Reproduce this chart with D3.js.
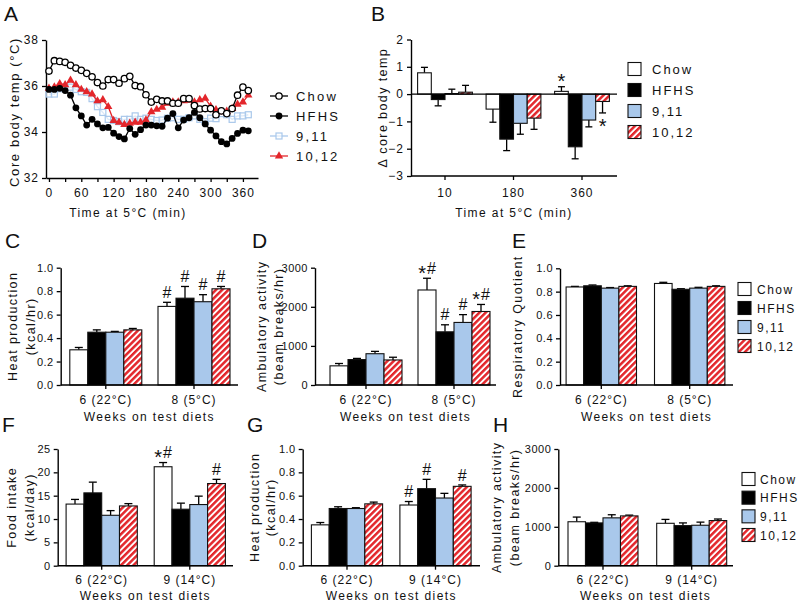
<!DOCTYPE html>
<html><head><meta charset="utf-8">
<script src="https://cdn.jsdelivr.net/npm/d3@7/dist/d3.min.js"></script>
<style>
body{margin:0;background:#fff}
svg{font-family:"Liberation Sans",Arial,Helvetica,sans-serif}
</style>
</head><body>
<svg id="c" width="800" height="603"></svg>
<script>
// ---------------- DATA ----------------
const seriesNames = ["Chow","HFHS","9,11","10,12"];

// Panel A: core body temperature over time at 5°C
const timeMin = [0,10,20,30,40,50,60,70,80,90,100,110,120,130,140,150,160,170,180,190,200,210,220,230,240,250,260,270,280,290,300,310,320,330,340,350,360,370];
const aChow = [36.65,37.1,37.07,37.03,36.9,36.78,36.68,36.55,36.4,36.15,36.0,36.28,36.28,36.12,36.32,36.42,36.02,35.97,35.62,35.3,35.42,35.35,35.35,35.25,35.25,35.45,35.45,35.15,35.0,35.02,35.02,34.75,34.92,34.8,35.02,35.6,35.95,35.8];
const aHFHS = [35.85,35.85,35.9,35.8,35.6,35.05,34.7,34.3,34.55,34.35,34.18,34.2,33.95,33.8,33.7,34.15,33.9,34.1,34.3,34.3,34.27,34.25,34.6,34.8,34.18,34.52,34.62,34.85,34.62,34.35,34.08,33.83,33.58,33.48,33.72,33.94,34.08,34.05];
const a911  = [35.65,35.65,35.88,35.95,35.95,35.85,35.75,35.72,35.45,35.1,34.85,34.55,34.5,34.45,34.55,34.55,34.7,34.55,34.6,34.55,34.5,34.52,34.6,34.62,34.55,34.55,34.62,34.7,34.55,34.45,34.6,34.58,34.8,34.75,34.55,34.7,34.7,34.75];
const a1012 = [35.9,35.95,36.1,36.05,36.25,36.05,35.85,35.75,35.65,35.35,35.4,35.1,34.5,34.42,34.32,34.38,34.42,34.42,34.52,34.88,34.98,35.07,35.25,35.3,35.3,35.35,35.38,35.3,35.4,35.46,35.12,34.96,34.88,34.9,35.02,35.2,35.3,35.6];
const aXTicks = [0,30,60,90,120,150,180,210,240,270,300,330,360];
const aXLabels = ["0","","60","","120","","180","","240","","300","","360"];
const aYTicks = [32,34,36,38];

// Panel B: change in core body temp
const bCats = ["10","180","360"];
const bMean = { "Chow":[0.78,-0.55,0.1], "HFHS":[-0.2,-1.65,-1.93], "9,11":[0.02,-1.07,-0.95], "10,12":[0.07,-0.88,-0.27] };
const bErr  = { "Chow":[0.2,0.48,0.17],  "HFHS":[0.23,0.42,0.44],   "9,11":[0.16,0.4,0.25],   "10,12":[0.25,0.41,0.42] };
const bAnn  = [ {s:"Chow",c:"360",t:"*",mode:"above"}, {s:"10,12",c:"360",t:"*",mode:"below"} ];
const bYTicks = [-3,-2,-1,0,1,2];

// Panels C-E (weeks 6 at 22°C, 8 at 5°C)
const catsCE = ["6 (22°C)","8 (5°C)"];
const cMean = { "Chow":[0.30,0.67], "HFHS":[0.45,0.74], "9,11":[0.45,0.71], "10,12":[0.47,0.82] };
const cErr  = { "Chow":[0.02,0.035],"HFHS":[0.02,0.10], "9,11":[0.007,0.06],"10,12":[0.012,0.02] };
const cAnn  = [ {s:"Chow",c:"8 (5°C)",t:"#"},{s:"HFHS",c:"8 (5°C)",t:"#"},{s:"9,11",c:"8 (5°C)",t:"#"},{s:"10,12",c:"8 (5°C)",t:"#"} ];
const dMean = { "Chow":[490,2430], "HFHS":[650,1360], "9,11":[800,1600], "10,12":[640,1880] };
const dErr  = { "Chow":[60,300],   "HFHS":[30,180],   "9,11":[60,200],   "10,12":[70,180] };
const dAnn  = [ {s:"Chow",c:"8 (5°C)",t:"*#"},{s:"HFHS",c:"8 (5°C)",t:"#"},{s:"9,11",c:"8 (5°C)",t:"#"},{s:"10,12",c:"8 (5°C)",t:"*#"} ];
const eMean = { "Chow":[0.84,0.87], "HFHS":[0.85,0.82], "9,11":[0.83,0.83], "10,12":[0.845,0.845] };
const eErr  = { "Chow":[0.005,0.01],"HFHS":[0.007,0.005],"9,11":[0.005,0.007],"10,12":[0.005,0.005] };

// Panels F-H (weeks 6 at 22°C, 9 at 14°C)
const catsFH = ["6 (22°C)","9 (14°C)"];
const fMean = { "Chow":[13.2,21.2], "HFHS":[15.6,12.1], "9,11":[10.8,13.1], "10,12":[12.8,17.6] };
const fErr  = { "Chow":[1.0,0.9],   "HFHS":[2.3,1.3],   "9,11":[1.0,1.8],   "10,12":[0.5,0.9] };
const fAnn  = [ {s:"Chow",c:"9 (14°C)",t:"*#"},{s:"10,12",c:"9 (14°C)",t:"#"} ];
const gMean = { "Chow":[0.35,0.52], "HFHS":[0.49,0.66], "9,11":[0.49,0.58], "10,12":[0.53,0.68] };
const gErr  = { "Chow":[0.02,0.03], "HFHS":[0.015,0.08],"9,11":[0.007,0.04],"10,12":[0.015,0.012] };
const gAnn  = [ {s:"Chow",c:"9 (14°C)",t:"#"},{s:"HFHS",c:"9 (14°C)",t:"#"},{s:"10,12",c:"9 (14°C)",t:"#"} ];
const hMean = { "Chow":[1130,1090], "HFHS":[1100,1030], "9,11":[1230,1040], "10,12":[1280,1160] };
const hErr  = { "Chow":[120,100],   "HFHS":[15,70],     "9,11":[80,80],     "10,12":[20,40] };

const ticks01 = [0,0.2,0.4,0.6,0.8,1.0];
const ticks3000 = [0,1000,2000,3000];
const ticks25 = [0,5,10,15,20,25];

// ---------------- DRAWING ----------------
const BLUE = "#a9c8eb", RED = "#e3262b";
const svg = d3.select("#c");
const defs = svg.append("defs");
const pat = defs.append("pattern").attr("id","hatch").attr("patternUnits","userSpaceOnUse")
  .attr("width",4.4).attr("height",4.4).attr("patternTransform","rotate(45)");
pat.append("rect").attr("width",4.4).attr("height",4.4).attr("fill","#fff");
pat.append("rect").attr("width",2.5).attr("height",4.4).attr("fill",RED);
const fills = {"Chow":"#fff","HFHS":"#000","9,11":BLUE,"10,12":"url(#hatch)"};

function text(x,y,s,o={}){
  const t = svg.append("text").attr("x",x).attr("y",y).text(s)
    .attr("font-size",o.size||12).attr("fill","#111")
    .attr("letter-spacing",o.ls!==undefined?o.ls:1)
    .attr("text-anchor",o.anchor||"start");
  if(o.rot) t.attr("transform",`rotate(-90,${x},${y})`);
  if(o.baseline) t.attr("dominant-baseline",o.baseline);
  return t;
}

// significance marks, positioned by the vertical centre of the glyphs
function mark(cx, cy, str){
  const t = svg.append("text").attr("x",cx).attr("y",cy+5.7).attr("text-anchor","middle").attr("fill","#111");
  let shifted = false;
  for(const ch of str){
    const sp = t.append("tspan").text(ch);
    if(ch==="*"){ sp.attr("font-size",20).attr("dy",5.8); shifted = true; }
    else { sp.attr("font-size",16); if(shifted){ sp.attr("dy",-5.8).attr("dx",1); shifted=false; } }
  }
}

function styleAxis(g, size){
  g.select(".domain").attr("stroke","#000").attr("stroke-width",1.4);
  g.selectAll(".tick line").attr("stroke","#000").attr("stroke-width",1.3);
  g.selectAll(".tick text").attr("font-size",size||12).attr("letter-spacing",size&&size<12?0.5:1).attr("fill","#111")
    .attr("font-family",'"Liberation Sans",Arial,sans-serif');
}

function yAxis(x, y, ticks, fmt, size){
  const g = svg.append("g").attr("transform",`translate(${x},0)`)
    .call(d3.axisLeft(y).tickValues(ticks).tickFormat(fmt).tickSize(4).tickSizeOuter(0).tickPadding(3));
  styleAxis(g, size);
  return g;
}

// Panel letters
[["A",4,21],["B",371,21],["C",5,248],["D",252,248],["E",512,248],["F",2,432],["G",247,432],["H",493,432]]
  .forEach(d=>text(d[1],d[2],d[0],{size:21,ls:0}));

// ---------- Panel A ----------
(function(){
  const x = d3.scaleLinear().domain([-5.5,388]).range([46,258]);
  const y = d3.scaleLinear().domain([32,38]).range([178,40]);
  const gx = svg.append("g").attr("transform","translate(0,178)")
    .call(d3.axisBottom(x).tickValues(aXTicks).tickFormat((d,i)=>aXLabels[i]).tickSize(4).tickSizeOuter(0).tickPadding(6));
  styleAxis(gx);
  yAxis(46, y, aYTicks, d3.format("d"), 12);
  const series = [
    {name:"9,11", v:a911, color:BLUE, marker:"square"},
    {name:"10,12", v:a1012, color:RED, marker:"triangle"},
    {name:"HFHS", v:aHFHS, color:"#000", marker:"filled"},
    {name:"Chow", v:aChow, color:"#000", marker:"open"}
  ];
  const line = d3.line().x((d,i)=>x(timeMin[i])).y(d=>y(d));
  function marker(g, cx, cy, m, color){
    if(m==="open") g.append("circle").attr("cx",cx).attr("cy",cy).attr("r",3.2).attr("fill","#fff").attr("stroke","#000").attr("stroke-width",1.3);
    else if(m==="filled") g.append("circle").attr("cx",cx).attr("cy",cy).attr("r",3.4).attr("fill","#000");
    else if(m==="square") g.append("rect").attr("x",cx-3).attr("y",cy-3).attr("width",6).attr("height",6).attr("fill","#fff").attr("fill-opacity",0.6).attr("stroke",color).attr("stroke-width",1.2);
    else g.append("path").attr("d",d3.symbol(d3.symbolTriangle,30)()).attr("transform",`translate(${cx},${cy})`).attr("fill",color);
  }
  series.forEach(s=>{
    const g = svg.append("g");
    g.append("path").datum(s.v).attr("d",line).attr("fill","none").attr("stroke",s.color).attr("stroke-width",1.3);
    s.v.forEach((d,i)=>marker(g, x(timeMin[i]), y(d), s.marker, s.color));
  });
  // legend
  const ly = d3.scalePoint().domain(seriesNames).range([96,156]);
  const lmap = {"Chow":series[3],"HFHS":series[2],"9,11":series[0],"10,12":series[1]};
  seriesNames.forEach(n=>{
    const s = lmap[n], yy = ly(n);
    const g = svg.append("g");
    g.append("line").attr("x1",270).attr("x2",288).attr("y1",yy).attr("y2",yy).attr("stroke",s.color).attr("stroke-width",1.3);
    marker(g, 279, yy, s.marker, s.color);
    text(296, yy+5, n, {size:13, ls:2.2});
  });
  text(14, 112, "Core body temp  (°C)", {size:13, ls:1.6, rot:true, anchor:"middle", baseline:"central"});
  text(128, 217, "Time at 5°C (min)", {size:12, ls:1.4, anchor:"middle"});
})();

// ---------- bar panels ----------
function barPanel(p){
  const step = p.centers[1]-p.centers[0];
  const n = p.cats.length;
  const x = d3.scaleBand().domain(p.cats).range([p.centers[0]-step/2, p.centers[0]+step*(n-0.5)]);
  const pad = (step/p.barW - 4)/2;
  const xs = d3.scaleBand().domain(seriesNames).range([0,step]).paddingInner(0).paddingOuter(pad);
  const y = d3.scaleLinear().domain(p.yDomain).range(p.yRange);
  const g = svg.append("g");
  const bw = xs.bandwidth();
  const cap = p.cap || 8;
  seriesNames.forEach(s=>{
    p.cats.forEach((c,ci)=>{
      const v = p.mean[s][ci], e = p.err[s][ci];
      const bx = x(c)+xs(s), cx = bx+bw/2;
      const top = y(v), base = y(0);
      const dir = v>=0?1:-1;
      const ey = y(v+dir*e);
      g.append("line").attr("x1",cx).attr("x2",cx).attr("y1",top).attr("y2",ey).attr("stroke","#000").attr("stroke-width",1.3);
      g.append("line").attr("x1",cx-cap/2).attr("x2",cx+cap/2).attr("y1",ey).attr("y2",ey).attr("stroke","#000").attr("stroke-width",1.3);
      g.append("rect").attr("x",bx).attr("y",Math.min(top,base)).attr("width",bw).attr("height",Math.max(0.5,Math.abs(top-base)))
        .attr("fill",fills[s]).attr("stroke","#111").attr("stroke-width",1.1);
    });
  });
  (p.ann||[]).forEach(a=>{
    const ci = p.cats.indexOf(a.c);
    const v = p.mean[a.s][ci], e = p.err[a.s][ci];
    const cx = x(a.c)+xs(a.s)+bw/2;
    if(a.mode==="below"){
      mark(cx, y(v-e)+9, a.t);
    } else {
      const yt = y(v + (v>=0?e:0));
      mark(cx, yt-10, a.t);
    }
  });
  // axes
  const gx = svg.append("g").attr("transform",`translate(0,${p.yRange[0]})`)
    .call(d3.axisBottom(x).tickSize(4).tickSizeOuter(0).tickPadding(p.tickPad||6));
  gx.select(".domain").remove();
  styleAxis(gx, 12);
  svg.append("line").attr("x1",p.axisX).attr("x2",p.axisEnd).attr("y1",p.yRange[0]).attr("y2",p.yRange[0]).attr("stroke","#000").attr("stroke-width",1.4);
  if(p.zeroLine) svg.append("line").attr("x1",p.axisX).attr("x2",p.axisEnd).attr("y1",y(0)).attr("y2",y(0)).attr("stroke","#000").attr("stroke-width",1.4);
  yAxis(p.axisX, y, p.ticks, p.fmt, p.tickSize||11);
  p.ytitle.forEach(t=>text(t[0], (p.yRange[0]+p.yRange[1])/2, t[1], {size:12.5, ls:1.4, rot:true, anchor:"middle", baseline:"central"}));
  if(p.xtitle) text(p.xtitleX||(p.axisX+p.axisEnd)/2, p.xtitleY, p.xtitle, {size:12, ls:1.4, anchor:"middle"});
  return {x,y};
}

function legendBoxes(x0, ys, tx, size, ls){
  const ly = d3.scalePoint().domain(seriesNames).range(ys);
  seriesNames.forEach(n=>{
    svg.append("rect").attr("x",x0).attr("y",ly(n)-6.5).attr("width",13).attr("height",13)
      .attr("fill",fills[n]).attr("stroke","#111").attr("stroke-width",1.1);
    text(tx, ly(n)+4.5, n, {size:size, ls:ls});
  });
}

// B
barPanel({cats:bCats, centers:[445,513.5], barW:13.7, yDomain:[-3,2], yRange:[176,39.5], mean:bMean, err:bErr, ann:bAnn,
  axisX:411, axisEnd:617, ticks:bYTicks, fmt:d3.format("d"), zeroLine:true, cap:7, tickSize:12,
  ytitle:[[383,"Δ core body temp"]], xtitle:"Time at 5°C (min)", xtitleY:217, tickPad:8});
legendBoxes(628,[69,132],652,13,2);

// C
barPanel({cats:catsCE, centers:[105.8,194], barW:18, yDomain:[0,1], yRange:[385,267.7], mean:cMean, err:cErr, ann:cAnn,
  axisX:60.7, axisEnd:238, ticks:ticks01, fmt:d3.format(".1f"),
  ytitle:[[13,"Heat production"],[31,"(kcal/hr)"]], xtitle:"Weeks on test diets", xtitleY:421});
// D
barPanel({cats:catsCE, centers:[366,454], barW:18, yDomain:[0,3000], yRange:[385,267.7], mean:dMean, err:dErr, ann:dAnn,
  axisX:315, axisEnd:496, ticks:ticks3000, fmt:d3.format("d"),
  ytitle:[[262,"Ambulatory activity"],[279,"(beam breaks/hr)"]], xtitle:"Weeks on test diets", xtitleY:421});
// E
barPanel({cats:catsCE, centers:[601.3,689.7], barW:17.6, yDomain:[0,1], yRange:[385,268.3], mean:eMean, err:eErr,
  axisX:560, axisEnd:733, ticks:ticks01, fmt:d3.format(".1f"),
  ytitle:[[518,"Respiratory Quotient"]], xtitle:"Weeks on test diets", xtitleY:421});
legendBoxes(738,[289,346],757,12,1.5);
// F
barPanel({cats:catsFH, centers:[101.7,189.8], barW:17.8, yDomain:[0,25], yRange:[565.7,449], mean:fMean, err:fErr, ann:fAnn,
  axisX:57.7, axisEnd:233, ticks:ticks25, fmt:d3.format("d"),
  ytitle:[[12,"Food intake"],[30,"(kcal/day)"]], xtitle:"Weeks on test diets", xtitleY:600});
// G
barPanel({cats:catsFH, centers:[347,435.5], barW:17.8, yDomain:[0,1], yRange:[565.7,449], mean:gMean, err:gErr, ann:gAnn,
  axisX:302.7, axisEnd:480, ticks:ticks01, fmt:d3.format(".1f"),
  ytitle:[[255,"Heat production"],[271,"(kcal/hr)"]], xtitle:"Weeks on test diets", xtitleY:600});
// H
barPanel({cats:catsFH, centers:[603,691.7], barW:17.5, yDomain:[0,3000], yRange:[565.7,449], mean:hMean, err:hErr,
  axisX:558.3, axisEnd:733, ticks:ticks3000, fmt:d3.format("d"),
  ytitle:[[497,"Ambulatory activity"],[515,"(beam breaks/hr)"]], xtitle:"Weeks on test diets", xtitleY:600});
legendBoxes(742,[479,535],760,12,1.5);
</script>
</body></html>
